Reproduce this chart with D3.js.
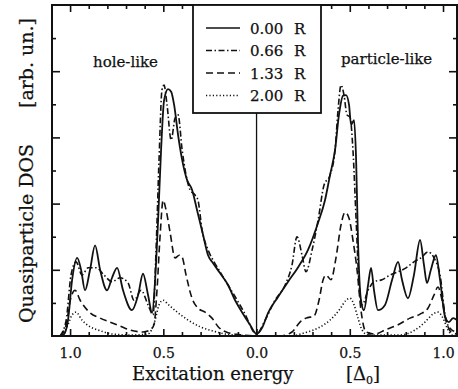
<!DOCTYPE html>
<html>
<head>
<meta charset="utf-8">
<script src="https://cdn.jsdelivr.net/npm/d3@7"></script>
<style>
  body { margin: 0; background: #fff; }
  text { font-family: "DejaVu Serif", serif; fill: #111; stroke: #111; stroke-width: 0.25; }
</style>
</head>
<body>
<div id="chart"></div>
<script>
// excitation energy in units of Delta_0 (negative = hole-like side), DOS in arb. units
const r000 = [
  [-1.097, 0], [-1.054, 0], [-1.032, 0.03], [-1.011, 0.24], [-0.989, 0.85], [-0.962, 1.18],
  [-0.941, 1.0], [-0.920, 0.69], [-0.893, 1.0], [-0.866, 1.37], [-0.839, 1.0], [-0.802, 0.69],
  [-0.775, 0.88], [-0.748, 1.03], [-0.716, 0.69], [-0.668, 0.39], [-0.635, 0.62], [-0.609, 0.94],
  [-0.582, 0.62], [-0.560, 0.35], [-0.544, 0.85], [-0.528, 1.75], [-0.512, 2.81], [-0.496, 3.56],
  [-0.475, 3.73], [-0.458, 3.69], [-0.442, 3.49], [-0.421, 3.04], [-0.399, 2.66], [-0.373, 2.36],
  [-0.346, 2.21], [-0.319, 1.90], [-0.287, 1.53], [-0.260, 1.22], [-0.233, 1.10], [-0.196, 0.95],
  [-0.153, 0.77], [-0.115, 0.54], [-0.078, 0.36], [-0.035, 0.17], [0, 0.03],
  [0.029, 0.12], [0.062, 0.35], [0.115, 0.59], [0.169, 0.82], [0.223, 1.04], [0.276, 1.30],
  [0.330, 1.71], [0.367, 2.05], [0.394, 2.43], [0.421, 2.81], [0.442, 3.34], [0.464, 3.63],
  [0.480, 3.64], [0.496, 3.49], [0.507, 3.19], [0.523, 3.26], [0.534, 2.66], [0.544, 1.45],
  [0.560, 0.54], [0.576, 0.39], [0.598, 0.77], [0.614, 1.03], [0.630, 0.69], [0.651, 0.39],
  [0.689, 0.47], [0.727, 0.85], [0.759, 1.12], [0.780, 0.85], [0.812, 0.57], [0.844, 0.92],
  [0.877, 1.45], [0.898, 1.07], [0.914, 0.80], [0.935, 1.00], [0.962, 1.22], [0.984, 0.85],
  [1.011, 0.29], [1.032, 0.21], [1.054, 0.27], [1.075, 0.24]
];
const r066 = [
  [-1.054, 0], [-1.021, 0.24], [-0.995, 0.92], [-0.968, 1.12], [-0.936, 0.92], [-0.903, 1.03],
  [-0.859, 1.03], [-0.818, 0.92], [-0.775, 0.82], [-0.732, 0.88], [-0.689, 0.80], [-0.657, 0.54],
  [-0.619, 0.69], [-0.582, 0.47], [-0.555, 0.32], [-0.539, 1.30], [-0.523, 2.66], [-0.507, 3.72],
  [-0.496, 3.79], [-0.480, 3.49], [-0.458, 2.96], [-0.437, 3.29], [-0.421, 3.34], [-0.399, 2.81],
  [-0.378, 2.43], [-0.357, 2.21], [-0.330, 2.13], [-0.314, 2.05], [-0.292, 1.60], [-0.260, 1.30],
  [-0.228, 1.12], [-0.196, 0.97], [-0.153, 0.77], [-0.110, 0.57], [-0.067, 0.36], [0, 0.03],
  [0.046, 0.24], [0.099, 0.54], [0.153, 0.77], [0.190, 1.07], [0.217, 1.50], [0.244, 1.22],
  [0.265, 0.97], [0.298, 1.30], [0.330, 1.75], [0.362, 2.28], [0.394, 2.43], [0.421, 2.81],
  [0.437, 3.41], [0.453, 3.79], [0.469, 3.64], [0.485, 3.34], [0.501, 3.31], [0.517, 2.81],
  [0.534, 1.75], [0.550, 0.77], [0.566, 0.47], [0.598, 0.69], [0.630, 0.82], [0.673, 0.85],
  [0.716, 0.92], [0.759, 0.97], [0.802, 1.03], [0.844, 1.12], [0.882, 1.18], [0.919, 1.27],
  [0.952, 1.18], [0.984, 0.92], [1.016, 0.24], [1.048, 0.09], [1.075, 0.06]
];
const r133 = [
  [-1.054, 0], [-1.021, 0.17], [-0.999, 0.54], [-0.973, 0.69], [-0.946, 0.54], [-0.893, 0.35],
  [-0.839, 0.27], [-0.786, 0.21], [-0.732, 0.15], [-0.678, 0.09], [-0.609, 0.06], [-0.571, 0.09],
  [-0.550, 0.17], [-0.534, 0.69], [-0.517, 1.53], [-0.501, 2.05], [-0.485, 1.90], [-0.464, 1.57],
  [-0.437, 1.18], [-0.415, 1.22], [-0.399, 1.19], [-0.378, 0.92], [-0.346, 0.57], [-0.314, 0.42],
  [-0.276, 0.36], [-0.239, 0.27], [-0.206, 0.14], [-0.153, 0.05], [-0.088, 0.02], [0, 0],
  [0.126, 0], [0.190, 0.06], [0.233, 0.21], [0.265, 0.27], [0.308, 0.30], [0.335, 0.54],
  [0.357, 0.85], [0.373, 0.92], [0.399, 0.85], [0.426, 1.18], [0.453, 1.68], [0.475, 1.87],
  [0.496, 1.78], [0.517, 1.45], [0.539, 1.00], [0.560, 0.39], [0.587, 0.06], [0.635, 0.03],
  [0.689, 0.09], [0.759, 0.17], [0.823, 0.27], [0.877, 0.33], [0.919, 0.42], [0.952, 0.62],
  [0.973, 0.74], [0.995, 0.54], [1.016, 0.24], [1.043, 0.06], [1.075, 0.03]
];
const r200 = [
  [-1.043, 0], [-1.011, 0.17], [-0.989, 0.32], [-0.968, 0.36], [-0.936, 0.24], [-0.893, 0.14],
  [-0.839, 0.08], [-0.775, 0.03], [-0.678, 0.015], [-0.582, 0.03], [-0.544, 0.24], [-0.523, 0.47],
  [-0.501, 0.54], [-0.475, 0.48], [-0.421, 0.35], [-0.367, 0.24], [-0.303, 0.14], [-0.239, 0.08],
  [-0.169, 0.03], [-0.088, 0.01], [0, 0],
  [0.180, 0], [0.260, 0.05], [0.330, 0.12], [0.394, 0.24], [0.448, 0.41], [0.480, 0.54],
  [0.501, 0.57], [0.523, 0.47], [0.544, 0.27], [0.566, 0.09], [0.598, 0.015], [0.769, 0.015],
  [0.850, 0.09], [0.903, 0.21], [0.946, 0.33], [0.973, 0.36], [1.000, 0.27], [1.027, 0.09],
  [1.048, 0.015], [1.075, 0]
];

const seriesNames = ['0.00', '0.66', '1.33', '2.00'];
const seriesData = [r000, r066, r133, r200];
const seriesDash = [null, '6,2.5,1.5,2.5', '7,4', '1.2,2.2'];

const xMajor = [-1.0, -0.5, 0.0, 0.5, 1.0];
const xMinor = [-0.9, -0.8, -0.7, -0.6, -0.4, -0.3, -0.2, -0.1, 0.1, 0.2, 0.3, 0.4, 0.6, 0.7, 0.8, 0.9];
const yMajor = [1, 2, 3, 4];
const yMinor = [0.5, 1.5, 2.5, 3.5, 4.5];

const W = 458, H = 389;
const plotL = 52, plotR = 457, plotT = 5, plotB = 336;

const svg = d3.select('#chart').append('svg')
  .attr('width', W).attr('height', H);

const x = d3.scaleLinear().domain([-1.097, 1.075]).range([plotL, plotR]);
const y = d3.scaleLinear().domain([0, 5]).range([plotB, plotT]);

// ticks (inward)
function styleAxis(g) {
  g.select('.domain').remove();
  g.selectAll('.tick line').attr('stroke', '#111').attr('stroke-width', 1.6);
}
svg.append('g').attr('transform', `translate(0,${plotB})`)
  .call(d3.axisBottom(x).tickValues(xMajor).tickSize(-7).tickPadding(12)
    .tickFormat((d) => Math.abs(d).toFixed(1)))
  .call(styleAxis)
  .call((g) => g.selectAll('text').attr('font-size', 14).attr('font-family', 'DejaVu Serif').attr('fill', '#111'));
svg.append('g').attr('transform', `translate(0,${plotB})`)
  .call(d3.axisBottom(x).tickValues(xMinor).tickSize(-4).tickFormat(''))
  .call(styleAxis);
svg.append('g').attr('transform', `translate(0,${plotT})`)
  .call(d3.axisTop(x).tickValues(xMajor).tickSize(-7).tickFormat(''))
  .call(styleAxis);
svg.append('g').attr('transform', `translate(0,${plotT})`)
  .call(d3.axisTop(x).tickValues(xMinor).tickSize(-4).tickFormat(''))
  .call(styleAxis);
svg.append('g').attr('transform', `translate(${plotL},0)`)
  .call(d3.axisLeft(y).tickValues(yMajor).tickSize(-8).tickFormat(''))
  .call(styleAxis);
svg.append('g').attr('transform', `translate(${plotL},0)`)
  .call(d3.axisLeft(y).tickValues(yMinor).tickSize(-4).tickFormat(''))
  .call(styleAxis);
svg.append('g').attr('transform', `translate(${plotR},0)`)
  .call(d3.axisRight(y).tickValues(yMajor).tickSize(-8).tickFormat(''))
  .call(styleAxis);
svg.append('g').attr('transform', `translate(${plotR},0)`)
  .call(d3.axisRight(y).tickValues(yMinor).tickSize(-4).tickFormat(''))
  .call(styleAxis);

// zero line
svg.append('line')
  .attr('x1', x(0)).attr('x2', x(0)).attr('y1', plotT).attr('y2', plotB)
  .attr('stroke', '#111').attr('stroke-width', 1.3);

const line = d3.line()
  .x((d) => x(d[0]))
  .y((d) => y(d[1]))
  .curve(d3.curveMonotoneX);

seriesData.forEach((data, i) => {
  svg.append('path')
    .datum(data)
    .attr('d', line)
    .attr('fill', 'none')
    .attr('stroke', '#111')
    .attr('stroke-width', i === 0 ? 1.8 : 1.6)
    .attr('stroke-dasharray', seriesDash[i]);
});

// frame
svg.append('rect')
  .attr('x', plotL).attr('y', plotT).attr('width', plotR - plotL).attr('height', plotB - plotT)
  .attr('fill', 'none').attr('stroke', '#111').attr('stroke-width', 2);

// legend
const lg = svg.append('g');
lg.append('rect')
  .attr('x', 193).attr('y', plotT).attr('width', 128).attr('height', 108)
  .attr('fill', '#fff').attr('stroke', '#111').attr('stroke-width', 1.8);
seriesNames.forEach((name, i) => {
  const cy = 28 + i * 22.5;
  lg.append('line')
    .attr('x1', 206).attr('x2', 240).attr('y1', cy).attr('y2', cy)
    .attr('stroke', '#111').attr('stroke-width', 1.4)
    .attr('stroke-dasharray', seriesDash[i]);
  lg.append('text').attr('x', 250).attr('y', cy + 5.5).attr('font-size', 15).text(name);
  lg.append('text').attr('x', 294).attr('y', cy + 5.5).attr('font-size', 15).text('R');
});

// annotations
svg.append('text').attr('x', 93).attr('y', 67).attr('font-size', 15).text('hole-like');
svg.append('text').attr('x', 341).attr('y', 64).attr('font-size', 15).text('particle-like');

// axis titles
svg.append('text').attr('x', 132).attr('y', 380).attr('font-size', 18).text('Excitation energy');
const dl = svg.append('text').attr('x', 346).attr('y', 380).attr('font-size', 18);
dl.append('tspan').text('[Δ');
dl.append('tspan').attr('font-size', 11).attr('dy', 4).text('0');
dl.append('tspan').attr('dy', -4).text(']');

const yl = svg.append('text')
  .attr('transform', 'translate(33,323) rotate(-90)')
  .attr('font-size', 19);
yl.append('tspan').text('Quasiparticle DOS');
yl.append('tspan').attr('x', 215).text('[arb. un.]');
</script>
</body>
</html>
